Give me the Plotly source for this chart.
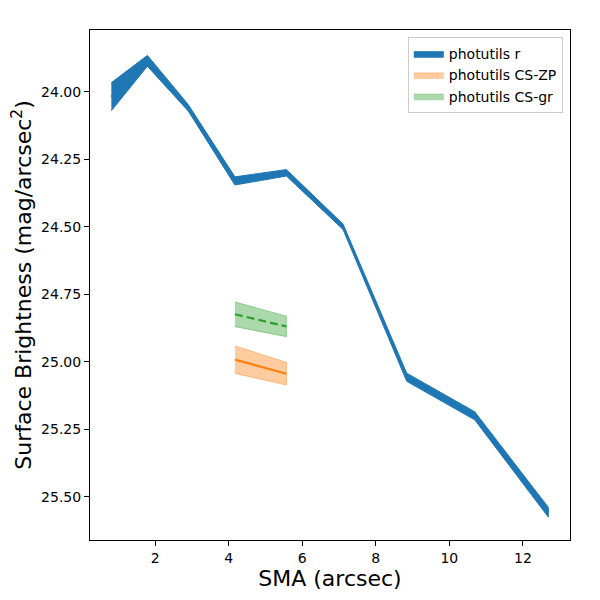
import plotly.graph_objs as go

# surface brightness profile
sma = [0.81, 1.79, 2.90, 4.17, 5.57, 7.11, 8.84, 10.69, 12.69]
sb_r = [24.018, 23.885, 24.059, 24.330, 24.300, 24.500, 25.057, 25.200, 25.557]
sb_r_err = [0.052, 0.020, 0.012, 0.015, 0.012, 0.010, 0.015, 0.015, 0.018]

sma_cs = [4.17, 5.57]
sb_zp = [24.992, 25.044]
sb_zp_err = [0.051, 0.042]
sb_gr = [24.824, 24.869]
sb_gr_err = [0.046, 0.038]

C0 = "#1f77b4"
C1 = "#ff7f0e"
C2 = "#2ca02c"


def band(x, y, err, fillcolor, name):
    upper = [v - e for v, e in zip(y, err)]
    lower = [v + e for v, e in zip(y, err)]
    return go.Scatter(
        x=list(x) + list(x)[::-1],
        y=upper + lower[::-1],
        fill="toself",
        fillcolor=fillcolor,
        line=dict(color=fillcolor, width=1),
        mode="lines",
        name=name,
        hoverinfo="skip",
    )


fig = go.Figure()
fig.add_trace(band(sma, sb_r, sb_r_err, C0, "photutils r"))
fig.add_trace(go.Scatter(x=sma, y=sb_r, mode="lines",
                         line=dict(color=C0, width=2), showlegend=False))
fig.add_trace(band(sma_cs, sb_zp, sb_zp_err, "rgba(255,127,14,0.4)", "photutils CS-ZP"))
fig.add_trace(go.Scatter(x=sma_cs, y=sb_zp, mode="lines",
                         line=dict(color=C1, width=2.2), showlegend=False))
fig.add_trace(band(sma_cs, sb_gr, sb_gr_err, "rgba(44,160,44,0.4)", "photutils CS-gr"))
fig.add_trace(go.Scatter(x=sma_cs, y=sb_gr, mode="lines",
                         line=dict(color=C2, width=2.2, dash="8px,4px"), showlegend=False))

axis_style = dict(
    showgrid=False, zeroline=False, showline=True, linecolor="black",
    linewidth=1, mirror=True, ticks="outside", ticklen=5, tickcolor="black",
    tickfont=dict(size=14, color="black"), automargin=False,
)

# page body adds an 8px offset, so margins are shifted to compensate
fig.update_layout(
    width=600, height=600,
    margin=dict(l=82, r=38, t=22, b=68),
    plot_bgcolor="white", paper_bgcolor="white",
    font=dict(family="DejaVu Sans", color="black"),
    xaxis=dict(range=[0.23, 13.28], tick0=2, dtick=2,
               title=dict(text="SMA (arcsec)", font=dict(size=22), standoff=4),
               **axis_style),
    yaxis=dict(range=[25.66, 23.771], tick0=24, dtick=0.25, tickformat=".2f",
               title=dict(text="Surface Brightness (mag/arcsec<sup>2</sup>)",
                          font=dict(size=22), standoff=6),
               **axis_style),
    legend=dict(x=0.985, y=0.986, xanchor="right", yanchor="top",
                bgcolor="rgba(255,255,255,0.8)", bordercolor="#cccccc",
                borderwidth=1, font=dict(size=14)),
    showlegend=True,
)

fig.write_html("out.html")
